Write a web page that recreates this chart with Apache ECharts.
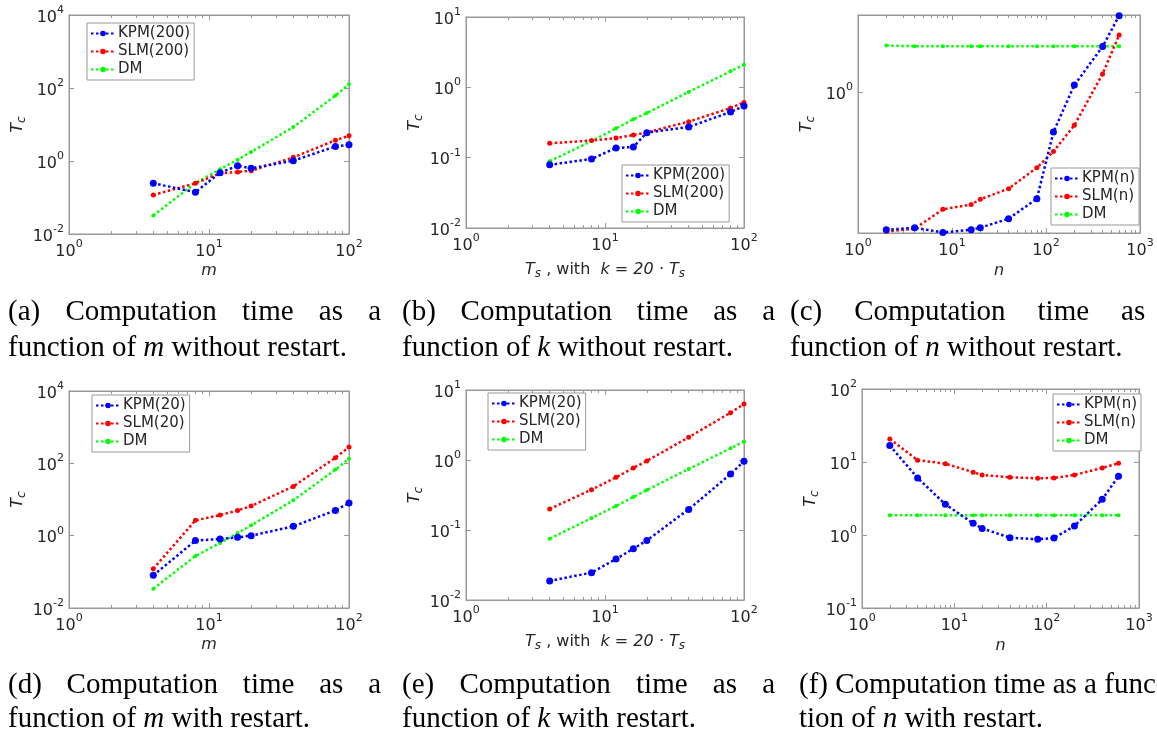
<!DOCTYPE html>
<html>
<head>
<meta charset="utf-8">
<script src="https://cdn.jsdelivr.net/npm/echarts@6/dist/echarts.min.js"></script>
<style>
    html, body { margin: 0; padding: 0; background: #fff; }
    #chart { width: 1157px; height: 734px; }
</style>
</head>
<body>
<div id="chart"></div>
<script>
// x values of the runs
const mValues = [4, 8, 12, 16, 20, 40, 80, 100]
const tsValues = [4, 8, 12, 16, 20, 40, 80, 100]
const nValues = [2, 4, 8, 16, 20, 40, 80, 120, 200, 400, 600]

// (a) time vs m, no restart
const aKPM = [0.245, 0.14, 0.48, 0.74, 0.63, 1.02, 2.5, 2.8]
const aSLM = [0.117, 0.245, 0.46, 0.5, 0.54, 1.26, 3.7, 4.9]
const aDM = [0.032, 0.25, 0.59, 1.09, 1.77, 8.5, 62, 126]

// (b) time vs Ts, no restart
const bKPM = [0.079, 0.096, 0.137, 0.142, 0.227, 0.273, 0.446, 0.543]
const bSLM = [0.16, 0.175, 0.19, 0.21, 0.229, 0.325, 0.508, 0.61]
const bDM = [0.089, 0.172, 0.261, 0.351, 0.431, 0.86, 1.69, 2.1]

// (c) time vs n, no restart
const cKPM = [0.129, 0.133, 0.124, 0.129, 0.133, 0.152, 0.205, 0.552, 1.11, 1.97, 3.12]
const cSLM = [0.126, 0.131, 0.175, 0.188, 0.203, 0.238, 0.325, 0.414, 0.61, 1.31, 2.34]
const cDM = [2.0, 1.98, 1.98, 1.98, 1.98, 1.98, 1.98, 1.98, 1.98, 1.98, 1.98]

// (d) time vs m, with restart
const dKPM = [0.08, 0.73, 0.81, 0.9, 1.0, 1.81, 5.0, 8.0]
const dSLM = [0.122, 2.65, 3.7, 5.0, 6.6, 23, 143, 282]
const dDM = [0.034, 0.274, 0.63, 1.18, 1.93, 9.5, 67, 134]

// (e) time vs Ts, with restart
const eKPM = [0.0187, 0.0246, 0.0385, 0.054, 0.071, 0.197, 0.63, 0.957]
const eSLM = [0.2, 0.377, 0.565, 0.77, 0.97, 2.11, 4.74, 6.3]
const eDM = [0.0752, 0.148, 0.22, 0.296, 0.373, 0.743, 1.47, 1.83]

// (f) time vs n, with restart
const fKPM = [16.8, 6.05, 2.63, 1.445, 1.23, 0.92, 0.873, 0.91, 1.33, 3.08, 6.38]
const fSLM = [20.7, 10.6, 9.5, 7.24, 6.65, 6.17, 5.98, 6.05, 6.65, 8.3, 9.6]
const fDM = [1.86, 1.86, 1.86, 1.86, 1.86, 1.86, 1.86, 1.86, 1.86, 1.86, 1.86]

// captions: line 1 words, line 2 words ("*" = italic)
const captions = [
    [["(a)", "Computation", "time", "as", "a"], ["function", "of", "*m", "without", "restart."]],
    [["(b)", "Computation", "time", "as", "a"], ["function", "of", "*k", "without", "restart."]],
    [["(c)", "Computation", "time", "as", "a"], ["function", "of", "*n", "without", "restart."]],
    [["(d)", "Computation", "time", "as", "a"], ["function", "of", "*m", "with", "restart."]],
    [["(e)", "Computation", "time", "as", "a"], ["function", "of", "*k", "with", "restart."]],
    [["(f)", "Computation", "time", "as", "a", "func-"], ["tion", "of", "*n", "with", "restart."]],
]

const BLUE = "#0000ff"
const RED = "#ff0000"
const GREEN = "#00ff00"
const SANS = "DejaVu Sans"
const SERIF = "Liberation Serif"
const INK = "#262626"
const FRAME = "#999999"

const tsName = "{t|T}{c|s}{r| , with  }{t|k = 20 · T}{c|s}"

// layout per panel
const panels = [
    { box: [69, 15, 280, 219], x: [1, 100], y: [0.01, 10000], yStep: 2, xName: "{t|m}", xGap: 29,
      legend: [87, 23], cap: [8, 373], lines: [["KPM(200)", mValues, aKPM], ["SLM(200)", mValues, aSLM], ["DM", mValues, aDM]] },
    { box: [466, 17, 278, 211], x: [1, 100], y: [0.01, 10], yStep: 1, xName: tsName, xGap: 34,
      legend: [622, 165], cap: [402, 373], lines: [["KPM(200)", tsValues, bKPM], ["SLM(200)", tsValues, bSLM], ["DM", tsValues, bDM]] },
    { box: [858, 15, 282, 218], x: [1, 1000], y: [0.123, 3.15], yStep: null, xName: "{t|n}", xGap: 30,
      legend: [1051, 168], cap: [790, 400], lines: [["KPM(n)", nValues, cKPM], ["SLM(n)", nValues, cSLM], ["DM", nValues, cDM]] },
    { box: [69, 391, 280, 217], x: [1, 100], y: [0.01, 10000], yStep: 2, xName: "{t|m}", xGap: 29,
      legend: [92, 395], cap: [8, 373], lines: [["KPM(20)", mValues, dKPM], ["SLM(20)", mValues, dSLM], ["DM", mValues, dDM]] },
    { box: [466, 390, 278, 210], x: [1, 100], y: [0.01, 10], yStep: 1, xName: tsName, xGap: 34,
      legend: [488, 393], cap: [402, 373], lines: [["KPM(20)", tsValues, eKPM], ["SLM(20)", tsValues, eSLM], ["DM", tsValues, eDM]] },
    { box: [862, 389, 277, 219], x: [1, 1000], y: [0.1, 100], yStep: 1, xName: "{t|n}", xGap: 30,
      legend: [1053, 394], cap: [799, 0], lines: [["KPM(n)", nValues, fKPM], ["SLM(n)", nValues, fSLM], ["DM", nValues, fDM]] },
]

const lineLook = [
    { color: BLUE, size: 7 },
    { color: RED, size: 5 },
    { color: GREEN, size: 4 },
]

function pairs(xs, ys) {
    return xs.map((x, i) => [x, ys[i]])
}

function powLabel(v) {
    const e = Math.log10(v)
    if (Math.abs(e - Math.round(e)) > 1e-6) return ""
    return "{b|10}{s|" + Math.round(e) + "}"
}

const powRich = {
    b: { fontFamily: SANS, fontSize: 16, color: INK, padding: [5, 0, 0, 0], verticalAlign: "bottom" },
    s: { fontFamily: SANS, fontSize: 11, color: INK, verticalAlign: "top" },
}

const nameRich = {
    t: { fontFamily: SANS, fontStyle: "italic", fontSize: 16, color: INK, verticalAlign: "top", lineHeight: 18 },
    c: { fontFamily: SANS, fontStyle: "italic", fontSize: 12, color: INK, verticalAlign: "bottom", lineHeight: 12, padding: [10, 0, 0, 0] },
    r: { fontFamily: SANS, fontSize: 16, color: INK, verticalAlign: "top", lineHeight: 18 },
}

const grid = [], xAxis = [], yAxis = [], series = [], legend = []

panels.forEach((p, i) => {
    grid.push({ left: p.box[0], top: p.box[1], width: p.box[2], height: p.box[3],
        show: true, borderColor: FRAME, borderWidth: 1, backgroundColor: "#fff" })

    const frameLine = { show: true, lineStyle: { color: FRAME, width: 1 } }
    const tick = { show: true, inside: true, length: 5, lineStyle: { color: FRAME } }
    const minor = { show: true, splitNumber: 9, length: 3, lineStyle: { color: FRAME, width: 1 } }

    // bottom x axis with labels, top copy only for the ticks
    xAxis.push({ type: "log", gridIndex: i, min: p.x[0], max: p.x[1], interval: 1, position: "bottom",
        axisLine: frameLine, axisTick: tick, minorTick: minor, splitLine: { show: false },
        axisLabel: { formatter: powLabel, rich: powRich, margin: 5 },
        name: p.xName, nameLocation: "middle", nameGap: p.xGap, nameTextStyle: { rich: nameRich } })
    xAxis.push({ type: "log", gridIndex: i, min: p.x[0], max: p.x[1], interval: 1, position: "top",
        axisLine: frameLine, axisTick: tick, minorTick: minor, splitLine: { show: false }, axisLabel: { show: false } })

    const yBase = { type: "log", gridIndex: i, min: p.y[0], max: p.y[1] }
    if (p.yStep) yBase.interval = p.yStep
    yAxis.push(Object.assign({}, yBase, { position: "left",
        axisLine: frameLine, axisTick: tick, splitLine: { show: false },
        axisLabel: { formatter: powLabel, rich: powRich, margin: 5 },
        name: "{t|T}{c|c}", nameLocation: "middle", nameGap: 41, nameRotate: 90,
        nameTextStyle: { rich: nameRich } }))
    yAxis.push(Object.assign({}, yBase, { position: "right",
        axisLine: frameLine, axisTick: tick, splitLine: { show: false }, axisLabel: { show: false } }))

    p.lines.forEach((ln, k) => {
        const look = lineLook[k]
        series.push({
            type: "line", name: ln[0], data: pairs(ln[1], ln[2]),
            xAxisIndex: 2 * i, yAxisIndex: 2 * i,
            symbol: "circle", symbolSize: look.size, showSymbol: true,
            lineStyle: { color: look.color, width: 2.5, type: [2.5, 2.5] },
            itemStyle: { color: look.color },
            z: 5 - k,
        })
    })

    legend.push({
        left: p.legend[0], top: p.legend[1], orient: "vertical",
        data: p.lines.map((ln) => ln[0]),
        backgroundColor: "#fff", borderColor: FRAME, borderWidth: 1, borderRadius: 0,
        padding: [3, 4, 3, 3], itemGap: 3, itemWidth: 24, itemHeight: 7,
        textStyle: { fontFamily: SANS, fontSize: 15, color: INK, padding: [0, 0, 0, -2] },
        selectedMode: false,
    })
})

// captions, first line justified like in the paper
const measure = document.createElement("canvas").getContext("2d")
function fontOf(word) {
    return (word[0] === "*" ? "italic " : "") + "29px \"" + SERIF + "\""
}
function widthOf(word) {
    measure.font = fontOf(word)
    return measure.measureText(word.replace("*", "")).width
}

const graphic = []
const capRows = [[322, 358], [695, 729]]
captions.forEach((cap, i) => {
    const left = panels[i].cap[0]
    const justify = panels[i].cap[1]
    const ys = capRows[i < 3 ? 0 : 1]
    cap.forEach((words, li) => {
        const widths = words.map(widthOf)
        const total = widths.reduce((a, b) => a + b, 0)
        let gap = widthOf(" ")
        if (li === 0 && justify) gap = (justify - total) / (words.length - 1)
        let x = left
        words.forEach((w, k) => {
            graphic.push({
                type: "text", left: x, top: ys[li] - 24, silent: true,
                style: { text: w.replace("*", ""), font: fontOf(w), fill: "#000" },
            })
            x += widths[k] + gap
        })
    })
})

const myChart = echarts.init(document.getElementById("chart"), null, { renderer: "canvas" })
myChart.setOption({
    animation: false,
    backgroundColor: "#fff",
    grid, xAxis, yAxis, series, legend, graphic,
})
</script>
</body>
</html>
